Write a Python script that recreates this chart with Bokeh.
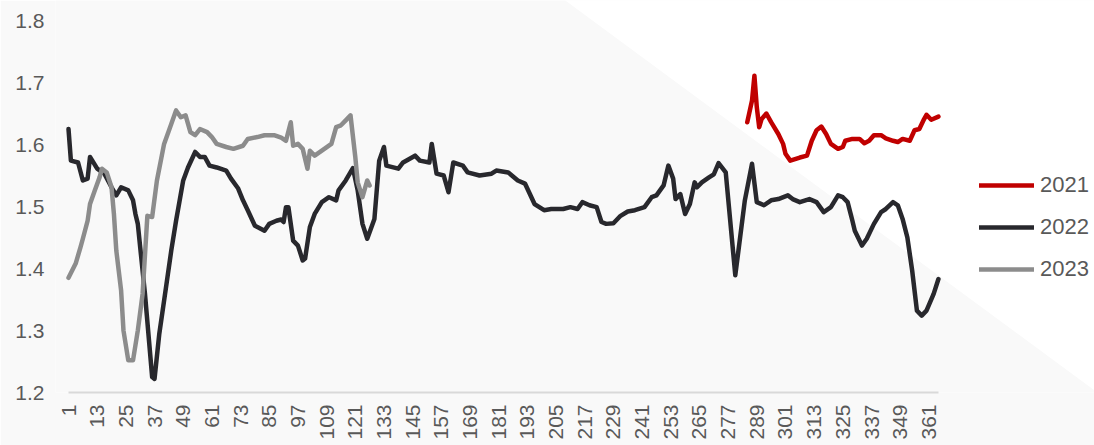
import math
from bokeh.plotting import figure
from bokeh.models import Range1d, FixedTicker, NumeralTickFormatter, PolyAnnotation
from bokeh.embed import file_html
from bokeh.resources import INLINE

# ---- data (day of year, value) ----
days_2021 = [285, 287, 288, 289, 290, 291, 293, 295, 298, 300, 301, 303, 307, 310, 312, 314,
             316, 318, 320, 323, 325, 326, 329, 332, 334, 336, 338, 341, 343, 346, 348, 350,
             353, 355, 357, 359, 360, 362, 365]
vals_2021 = [1.636, 1.671, 1.711, 1.660, 1.628, 1.641, 1.650, 1.636, 1.617, 1.601, 1.585, 1.574,
             1.579, 1.582, 1.606, 1.623, 1.629, 1.617, 1.601, 1.593, 1.596, 1.606, 1.609, 1.609,
             1.602, 1.606, 1.615, 1.615, 1.610, 1.606, 1.604, 1.609, 1.606, 1.623, 1.625, 1.641,
             1.648, 1.640, 1.645]

days_2022 = [1, 2, 5, 7, 9, 10, 13, 16, 19, 21, 23, 26, 28, 29, 30, 33, 36, 37, 39, 42, 44,
             46, 49, 51, 54, 56, 58, 60, 63, 67, 69, 72, 74, 76, 79, 83, 85, 88, 90, 91, 92,
             93, 95, 97, 99, 100, 102, 104, 107, 110, 113, 114, 117, 120, 122, 124, 126, 129,
             131, 133, 134, 139, 141, 146, 148, 152, 153, 155, 158, 160, 162, 166, 168, 173,
             178, 180, 185, 189, 192, 196, 200, 203, 208, 211, 214, 216, 219, 222, 224, 226,
             229, 232, 235, 238, 242, 245, 247, 250, 252, 254, 255, 257, 259, 261, 263, 264,
             266, 269, 271, 273, 276, 280, 284, 287, 289, 292, 295, 298, 302, 304, 307, 311,
             314, 317, 320, 323, 325, 327, 329, 330, 333, 335, 338, 341, 343, 346, 348, 350,
             352, 354, 356, 358, 360, 363, 365]
vals_2022 = [1.625, 1.574, 1.571, 1.542, 1.545, 1.580, 1.561, 1.553, 1.531, 1.518, 1.531, 1.526,
             1.510, 1.488, 1.472, 1.359, 1.225, 1.222, 1.295, 1.375, 1.429, 1.477, 1.542, 1.563,
             1.588, 1.580, 1.580, 1.566, 1.563, 1.558, 1.545, 1.529, 1.510, 1.494, 1.469, 1.461,
             1.472, 1.477, 1.479, 1.475, 1.499, 1.499, 1.445, 1.437, 1.413, 1.416, 1.467, 1.488,
             1.507, 1.515, 1.510, 1.526, 1.542, 1.562, 1.526, 1.472, 1.448, 1.480, 1.574, 1.596,
             1.566, 1.561, 1.571, 1.582, 1.574, 1.571, 1.601, 1.553, 1.550, 1.523, 1.571, 1.566,
             1.555, 1.550, 1.553, 1.558, 1.555, 1.542, 1.537, 1.504, 1.494, 1.496, 1.496, 1.499,
             1.496, 1.507, 1.502, 1.499, 1.475, 1.472, 1.473, 1.485, 1.492, 1.494, 1.499, 1.515,
             1.518, 1.534, 1.566, 1.545, 1.512, 1.520, 1.488, 1.504, 1.539, 1.531, 1.539, 1.547,
             1.552, 1.570, 1.555, 1.389, 1.510, 1.569, 1.507, 1.502, 1.510, 1.512, 1.518, 1.512,
             1.507, 1.512, 1.507, 1.491, 1.499, 1.518, 1.515, 1.507, 1.477, 1.461, 1.437, 1.448,
             1.472, 1.491, 1.496, 1.507, 1.502, 1.480, 1.450, 1.397, 1.332, 1.324, 1.332, 1.359,
             1.383]

days_2023 = [1, 4, 6, 7, 9, 10, 12, 14, 15, 17, 19, 20, 21, 23, 24, 26, 28, 30, 32, 34, 36,
             38, 41, 44, 46, 48, 50, 52, 54, 56, 59, 61, 63, 67, 70, 74, 76, 80, 83, 87, 90,
             92, 94, 95, 97, 99, 101, 102, 104, 107, 111, 113, 115, 117, 119, 121, 122, 124,
             126, 127]
vals_2023 = [1.385, 1.408, 1.434, 1.448, 1.477, 1.504, 1.526, 1.547, 1.561, 1.555, 1.531, 1.488,
             1.429, 1.365, 1.300, 1.252, 1.252, 1.300, 1.359, 1.485, 1.483, 1.542, 1.601, 1.633,
             1.655, 1.644, 1.647, 1.620, 1.615, 1.625, 1.620, 1.612, 1.601, 1.596, 1.593, 1.598,
             1.609, 1.612, 1.615, 1.615, 1.611, 1.606, 1.636, 1.598, 1.601, 1.593, 1.561, 1.590,
             1.582, 1.590, 1.601, 1.628, 1.631, 1.639, 1.647, 1.580, 1.539, 1.515, 1.542, 1.534]

x_ticks = [1, 13, 25, 37, 49, 61, 73, 85, 97, 109, 121, 133, 145, 157, 169, 181, 193, 205,
           217, 229, 241, 253, 265, 277, 289, 301, 313, 325, 337, 349, 361]
y_ticks = [1.2, 1.3, 1.4, 1.5, 1.6, 1.7, 1.8]

series_names = ["2021", "2022", "2023"]
series_colors = ["#C00000", "#28282D", "#8C8C8C"]

BG = "#f9f9f9"
FONT = "Liberation Sans"
TXT = "#595959"
W, H = 1094, 445
FL, FB = 55, 392   # frame left / frame bottom in canvas pixels

p = figure(width=W, height=H, output_backend="svg", toolbar_location=None,
           x_range=Range1d(-4.44, 430.3), y_range=Range1d(1.2, 1.8323),
           min_border_left=FL, min_border_right=0, min_border_top=0,
           min_border_bottom=H - FB)
p.background_fill_color = BG
p.border_fill_color = BG
p.outline_line_color = None
p.grid.visible = False

# diagonal white area (decorative background; screen units relative to the frame,
# origin at its bottom-left, y upwards)
cx = [554, 1100, 1100]
cy = [-8, -8, 394.4]
tri = PolyAnnotation(xs=[x - FL for x in cx], ys=[FB - y for y in cy],
                     xs_units="screen", ys_units="screen",
                     fill_color="white", fill_alpha=1.0, line_color=None, level="underlay")
p.add_layout(tri)

for d, v, name, col in zip([days_2021, days_2022, days_2023],
                           [vals_2021, vals_2022, vals_2023],
                           series_names, series_colors):
    p.line(d, v, line_width=4.5, line_color=col, line_join="round", line_cap="round",
           legend_label=name)

xa = p.xaxis[0]
xa.ticker = FixedTicker(ticks=x_ticks)
xa.bounds = (1, 365)
xa.major_label_orientation = math.pi / 2
xa.axis_line_color = "#d9d9d9"
xa.axis_line_width = 2
xa.major_tick_line_color = None
xa.minor_tick_line_color = None
xa.major_label_text_font = FONT
xa.major_label_text_font_size = "21px"
xa.major_label_text_color = TXT
xa.major_label_standoff = 6

ya = p.yaxis[0]
ya.ticker = FixedTicker(ticks=y_ticks)
ya.formatter = NumeralTickFormatter(format="0.0")
ya.axis_line_color = None
ya.major_tick_line_color = None
ya.minor_tick_line_color = None
ya.major_label_text_font = FONT
ya.major_label_text_font_size = "21px"
ya.major_label_text_color = TXT
ya.major_label_standoff = 5

lg = p.legend[0]
lg.location = (924, 110)
lg.background_fill_alpha = 0
lg.border_line_color = None
lg.padding = 0
lg.margin = 0
lg.spacing = 16
lg.glyph_width = 55
lg.glyph_height = 22
lg.label_height = 22
lg.label_standoff = 6
lg.label_text_font = FONT
lg.label_text_font_size = "22px"
lg.label_text_color = TXT

open("out.html", "w").write(file_html(p, INLINE))
